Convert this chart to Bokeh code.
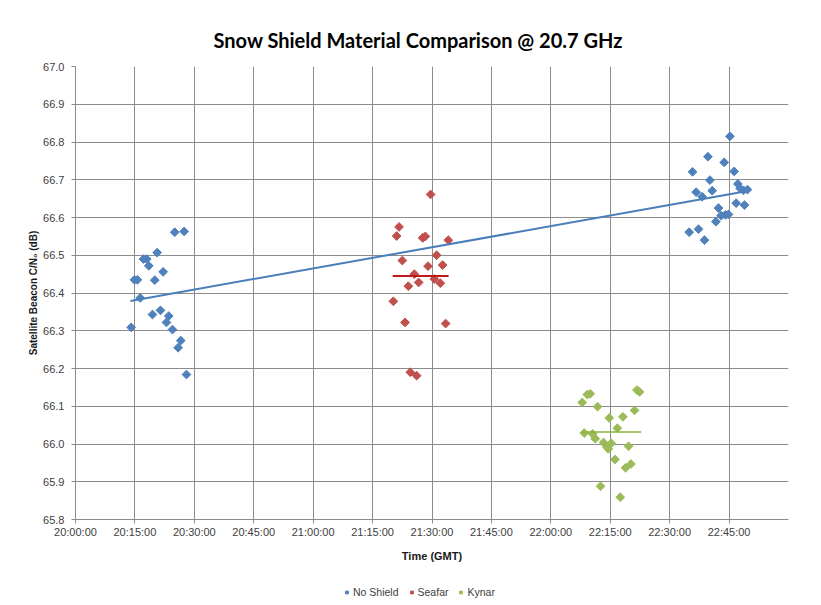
import math
from bokeh.plotting import figure
from bokeh.layouts import column
from bokeh.models import Range1d, FixedTicker, Legend, LegendItem
from bokeh.embed import file_html
from bokeh.resources import INLINE

# ---- data (minutes after 20:00:00 GMT, C/N0 in dB) ----
noshield_min = [14.05, 14.89, 15.64, 16.33, 17.16, 17.99, 18.50, 20.62, 20.01, 22.13,
                19.43, 21.45, 23.54, 22.96, 24.48, 25.06, 27.43, 26.57, 25.91, 28.01,
                165.2, 159.65, 163.77, 155.77, 166.29, 160.16, 167.22, 167.8, 168.63, 169.64,
                156.7, 160.74, 158.2, 166.79, 168.89, 162.33, 163.0, 164.09, 164.85, 161.67,
                154.93, 157.28, 158.79]
noshield_db = [66.309, 66.435, 66.435, 66.387, 66.490, 66.490, 66.472, 66.507, 66.434, 66.456,
               66.343, 66.354, 66.339, 66.322, 66.303, 66.561, 66.563, 66.274, 66.255, 66.184,
               66.815, 66.761, 66.746, 66.721, 66.722, 66.699, 66.689, 66.677, 66.672, 66.674,
               66.667, 66.671, 66.655, 66.638, 66.633, 66.625, 66.605, 66.607, 66.608, 66.589,
               66.561, 66.569, 66.540]

seafar_min = [89.65, 81.68, 81.08, 87.64, 88.32, 94.12, 91.17, 82.51, 89.0, 92.68,
              85.54, 90.59, 86.63, 92.10, 84.03, 80.24, 83.19, 93.44, 84.53, 86.12]
seafar_db = [66.661, 66.575, 66.551, 66.546, 66.550, 66.540, 66.500, 66.486, 66.471, 66.474,
             66.450, 66.437, 66.428, 66.426, 66.418, 66.378, 66.322, 66.319, 66.190, 66.181]

kynar_min = [129.2, 129.95, 127.93, 131.8, 141.74, 142.4, 141.13, 134.75, 138.2, 136.77,
             128.44, 130.53, 131.21, 133.3, 135.25, 134.17, 134.5, 139.62, 136.19, 140.22,
             138.86, 132.55, 137.52]
kynar_db = [66.131, 66.133, 66.110, 66.099, 66.143, 66.138, 66.089, 66.069, 66.072, 66.042,
            66.029, 66.027, 66.014, 66.004, 66.002, 65.992, 65.987, 65.994, 65.959, 65.947,
            65.937, 65.888, 65.859]

noshield_trend_min = [13.88, 168.63]
noshield_trend_db = [66.379, 66.668]
seafar_mean_min = [80.07, 94.2]
seafar_mean_db = [66.445, 66.445]
kynar_mean_min = [127.93, 142.82]
kynar_mean_db = [66.032, 66.032]

series_names = ["No Shield", "Seafar", "Kynar"]

x_ticks = [0, 15, 30, 45, 60, 75, 90, 105, 120, 135, 150, 165]
x_tick_labels = ["20:00:00", "20:15:00", "20:30:00", "20:45:00", "21:00:00", "21:15:00",
                 "21:30:00", "21:45:00", "22:00:00", "22:15:00", "22:30:00", "22:45:00"]
y_ticks = [65.8, 65.9, 66.0, 66.1, 66.2, 66.3, 66.4, 66.5, 66.6, 66.7, 66.8, 66.9, 67.0]

BLUE = "#4F81BD"
RED = "#C0504D"
GREEN = "#9BBB59"
COLORS = [BLUE, RED, GREEN]
GRID = "#8C8C8C"
FONT = "Liberation Sans"

p = figure(width=813, height=575, output_backend="svg", toolbar_location=None,
           x_range=Range1d(0, 180), y_range=Range1d(65.8, 67.0),
           min_border_left=75, min_border_right=25, min_border_top=66, min_border_bottom=56,
           title="Snow Shield Material Comparison @ 20.7 GHz")
p.outline_line_color = None

p.title.text_font = "Lato"
p.title.text_font_style = "bold"
p.title.text_font_size = "20px"
p.title.text_color = "#000000"
p.title.align = "left"
p.title.offset = 138
p.title.standoff = 29

# axes
p.xaxis.ticker = FixedTicker(ticks=x_ticks)
p.xaxis.major_label_overrides = {t: l for t, l in zip(x_ticks, x_tick_labels)}
p.yaxis.ticker = FixedTicker(ticks=y_ticks)
p.yaxis.major_label_overrides = {t: f"{t:.1f}" for t in y_ticks}
for ax in (p.xaxis, p.yaxis):
    ax.axis_line_color = GRID
    ax.major_tick_line_color = GRID
    ax.major_tick_in = 0
    ax.major_tick_out = 4
    ax.minor_tick_line_color = None
    ax.major_label_text_font = FONT
    ax.major_label_text_font_size = "11px"
    ax.major_label_text_color = "#404040"
    ax.axis_label_text_font = FONT
    ax.axis_label_text_font_style = "bold"
    ax.axis_label_text_color = "#1a1a1a"
p.xaxis.axis_label = "Time (GMT)"
p.xaxis.axis_label_text_font_size = "11px"
p.xaxis.major_label_standoff = 2
p.xaxis.axis_label_standoff = 9
p.yaxis.axis_label = "Satellite Beacon C/N\u2080 (dB)"
p.yaxis.axis_label_text_font_size = "10px"
p.yaxis.major_label_standoff = 7
p.yaxis.axis_label_standoff = 1

p.xgrid.ticker = FixedTicker(ticks=x_ticks[1:])
p.ygrid.ticker = FixedTicker(ticks=y_ticks[1:])
for g in (p.xgrid, p.ygrid):
    g.grid_line_color = GRID
    g.grid_line_width = 1

# data
MK = dict(marker="square", angle=math.pi / 4, size=6.2)
p.scatter(noshield_min, noshield_db, fill_color=BLUE, line_color=BLUE, **MK)
p.scatter(seafar_min, seafar_db, fill_color=RED, line_color=RED, **MK)
p.scatter(kynar_min, kynar_db, fill_color=GREEN, line_color=GREEN, **MK)
p.line(noshield_trend_min, noshield_trend_db, line_color="#4A7EBB", line_width=2)
p.line(seafar_mean_min, seafar_mean_db, line_color="#C0191C", line_width=2)
p.line(kynar_mean_min, kynar_mean_db, line_color="#8DB33E", line_width=1.5)

# legend strip below the chart
lg = figure(width=813, height=30, output_backend="svg", toolbar_location=None,
            x_range=Range1d(0, 1), y_range=Range1d(0, 1),
            min_border=0, x_axis_type=None, y_axis_type=None)
lg.outline_line_color = None
lg.grid.visible = False
items = []
for name, col in zip(series_names, COLORS):
    r = lg.scatter([-5], [-5], fill_color=col, line_color=col, marker="square",
                   angle=math.pi / 4, size=5.5)
    items.append(LegendItem(label=name, renderers=[r]))
legend = Legend(items=items, orientation="horizontal", location=(268, 7),
                label_text_font=FONT, label_text_font_size="10.5px", label_text_color="#404040",
                glyph_width=7, glyph_height=12, label_height=12, label_standoff=3,
                spacing=9, padding=0, margin=0,
                border_line_color=None, background_fill_alpha=0)
lg.add_layout(legend)

layout = column(p, lg, spacing=0)
open("out.html", "w").write(file_html(layout, INLINE))
